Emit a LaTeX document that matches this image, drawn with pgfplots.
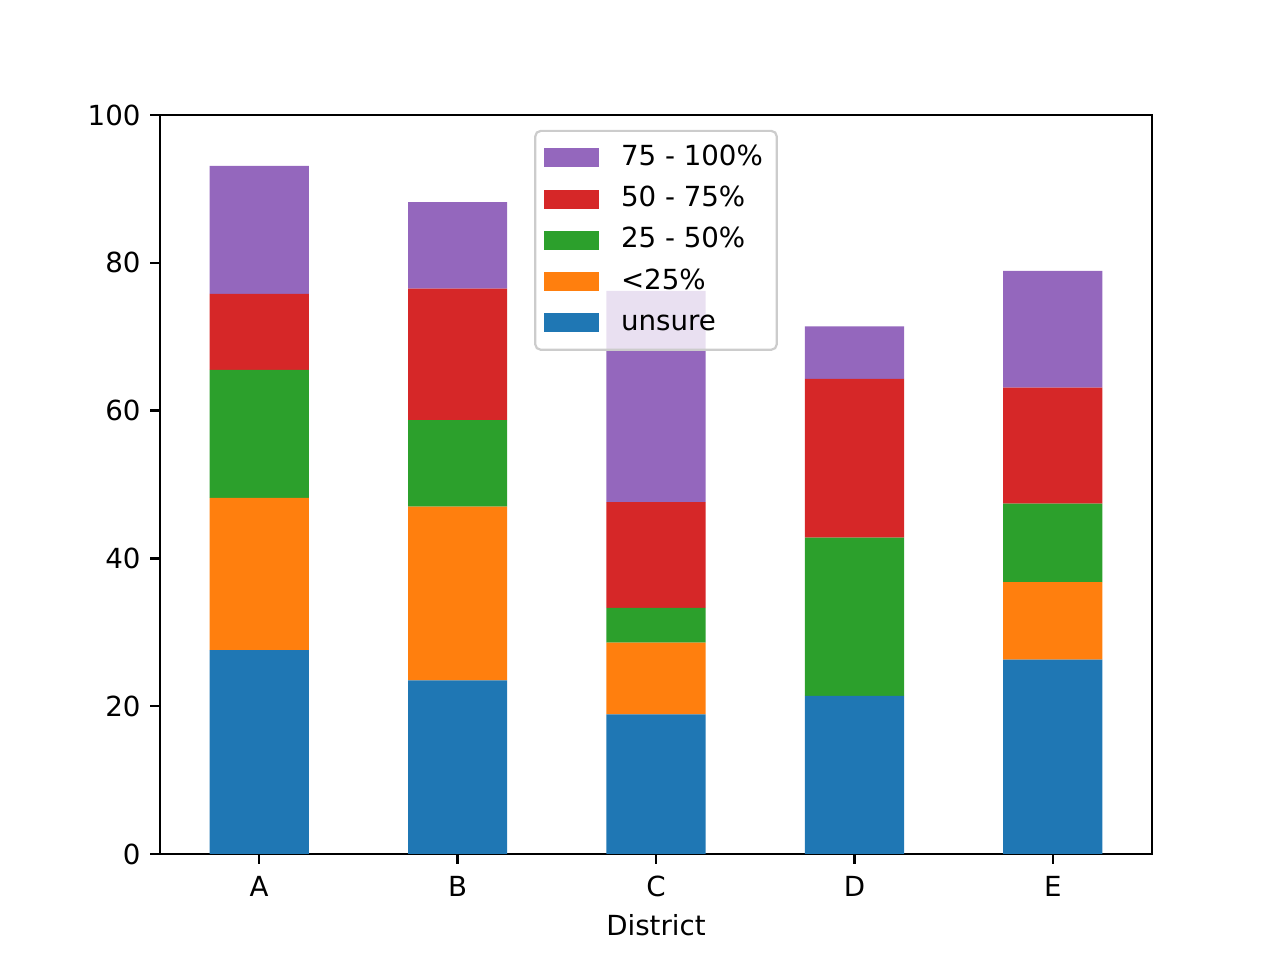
\documentclass[border=0pt]{standalone}
\usepackage{pgfplots}
\pgfplotsset{compat=1.18}
\usepackage{fontspec}
\setmainfont{DejaVu Sans}

\definecolor{tabblue}{HTML}{1F77B4}
\definecolor{taborange}{HTML}{FF7F0E}
\definecolor{tabgreen}{HTML}{2CA02C}
\definecolor{tabred}{HTML}{D62728}
\definecolor{tabpurple}{HTML}{9467BD}

\begin{document}
\begin{tikzpicture}
    \useasboundingbox (0,0) rectangle (6.4in,4.8in);
    \begin{axis}[
        at={(0.8in,0.53in)}, anchor=south west,
        scale only axis,
        width=4.96in, height=3.695in,
        ybar stacked,
        bar width=0.5,
        xmin=-0.5, xmax=4.5,
        ymin=0, ymax=100,
        xtick={0,1,2,3,4},
        xticklabels={A,B,C,D,E},
        ytick={0,20,40,60,80,100},
        xlabel={District},
        tick pos=left,
        tick align=outside,
        major tick length=3.5pt,
        every tick/.style={black, line width=0.8pt},
        axis line style={line width=0.8pt},
        /pgf/number format/assume math mode=true,
        ticklabel style={font=\fontsize{10}{12}\selectfont},
        xticklabel style={yshift=-1pt},
        label style={font=\fontsize{10}{12}\selectfont},
        xlabel style={yshift=0.5pt},
        legend style={
            at={(0.5,0.98)}, anchor=north,
            draw=black!20, line width=0.8pt, rounded corners=2pt,
            fill=white, fill opacity=0.8, text opacity=1,
            font=\fontsize{10}{12}\selectfont,
            nodes={inner ysep=0pt, text height=7.5pt, text depth=2pt},
            row sep=5.4pt,
            inner xsep=3pt, inner ysep=5pt,
            /tikz/every odd column/.append style={column sep=6pt},
        },
        legend cell align=left,
        reverse legend,
        legend image code/.code={
            \fill[#1, fill opacity=1, sharp corners] (0pt,-3.4pt) rectangle (20pt,3.4pt);
        },
    ]
        \addplot[fill=tabblue, draw=none] coordinates {
            (0,27.6) (1,23.5) (2,18.9) (3,21.4) (4,26.3)
        };
        \addlegendentry{unsure}
        \addplot[fill=taborange, draw=none] coordinates {
            (0,20.6) (1,23.5) (2,9.7) (3,0) (4,10.5)
        };
        \addlegendentry{<25\%}
        \addplot[fill=tabgreen, draw=none] coordinates {
            (0,17.3) (1,11.7) (2,4.7) (3,21.4) (4,10.6)
        };
        \addlegendentry{25 - 50\%}
        \addplot[fill=tabred, draw=none] coordinates {
            (0,10.3) (1,17.8) (2,14.3) (3,21.5) (4,15.7)
        };
        \addlegendentry{50 - 75\%}
        \addplot[fill=tabpurple, draw=none] coordinates {
            (0,17.3) (1,11.7) (2,28.6) (3,7.1) (4,15.8)
        };
        \addlegendentry{75 - 100\%}
    \end{axis}
\end{tikzpicture}
\end{document}
